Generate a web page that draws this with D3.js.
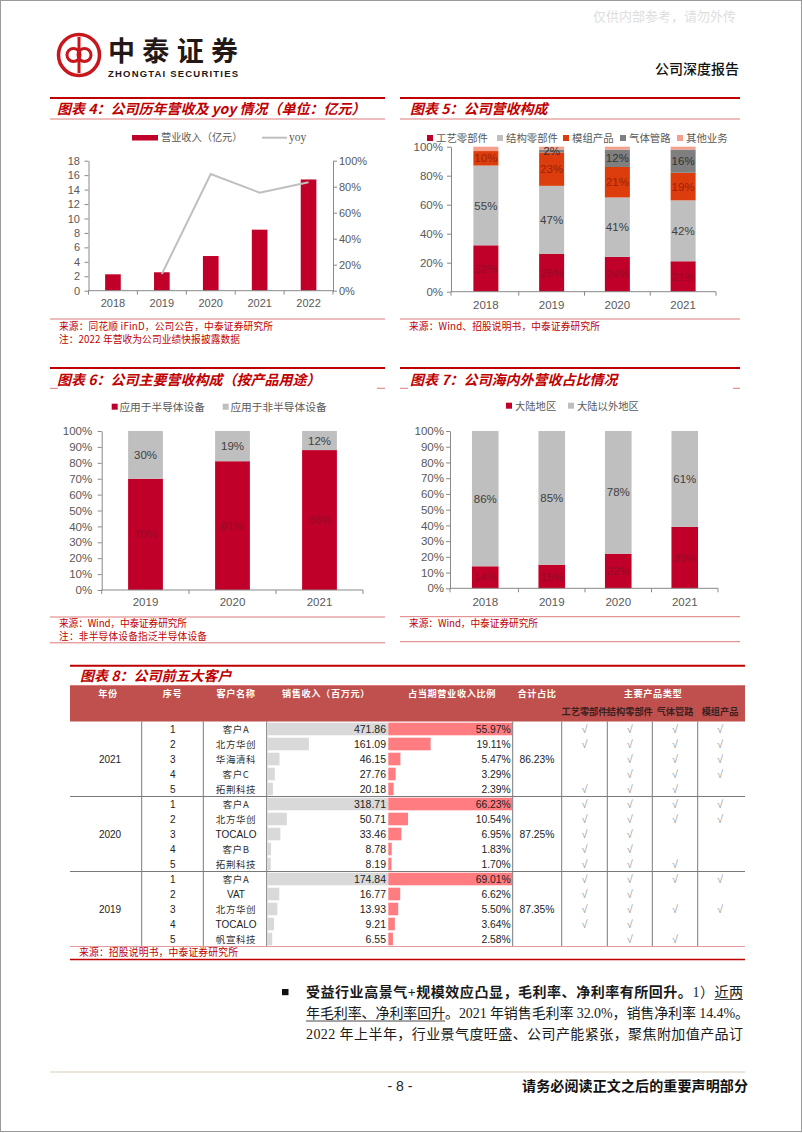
<!DOCTYPE html>
<html><head><meta charset="utf-8">
<script src="https://cdn.jsdelivr.net/npm/d3@7"></script>
<style>
body{margin:0;background:#fff;}
svg{display:block}
</style></head><body>
<div id="page" style="position:relative;width:802px;height:1133px;"></div>
<script>
// ---------------- DATA ----------------
// Chart 4
const years4 = ["2018","2019","2020","2021","2022"];
const revenue4 = [2.27, 2.55, 4.80, 8.45, 15.40];
const yoy4 = [null, 0.128, 0.897, 0.754, 0.834];
const yLeftTicks4 = [0,2,4,6,8,10,12,14,16,18];
const yRightTicks4 = [0,0.2,0.4,0.6,0.8,1.0];
// Chart 5
const years5 = ["2018","2019","2020","2021"];
const series5 = ["工艺零部件","结构零部件","模组产品","气体管路","其他业务"];
const craftParts5 = [0.32, 0.26, 0.24, 0.21];
const structParts5 = [0.55, 0.47, 0.41, 0.42];
const modules5 = [0.10, 0.23, 0.21, 0.19];
const gasLines5 = [0.00, 0.02, 0.12, 0.16];
const others5 = [0.03, 0.02, 0.02, 0.02];
// Chart 6
const years6 = ["2019","2020","2021"];
const series6 = ["应用于半导体设备","应用于非半导体设备"];
const semi6 = [0.70, 0.81, 0.88];
const nonSemi6 = [0.30, 0.19, 0.12];
// Chart 7
const years7 = ["2018","2019","2020","2021"];
const series7 = ["大陆地区","大陆以外地区"];
const mainland7 = [0.14, 0.15, 0.22, 0.39];
const overseas7 = [0.86, 0.85, 0.78, 0.61];
// Table 8
const tableYears = ["2021","2020","2019"];
const tableTotals = ["86.23%","87.25%","87.35%"];
const rankNo = ["1","2","3","4","5"];
const productTypes = ["工艺零部件","结构零部件","气体管路","模组产品"];
const customers2021 = ["客户A","北方华创","华海清科","客户C","拓荆科技"];
const sales2021 = [471.86,161.09,46.15,27.76,20.18];
const share2021 = [55.97,19.11,5.47,3.29,2.39];
const products2021 = [[1,1,1,1],[1,1,1,1],[0,1,1,1],[0,1,1,1],[1,1,1,0]];
const customers2020 = ["客户A","北方华创","TOCALO","客户B","拓荆科技"];
const sales2020 = [318.71,50.71,33.46,8.78,8.19];
const share2020 = [66.23,10.54,6.95,1.83,1.70];
const products2020 = [[1,1,1,1],[1,1,1,1],[1,1,0,0],[1,1,0,0],[1,1,1,0]];
const customers2019 = ["客户A","VAT","北方华创","TOCALO","帆宣科技"];
const sales2019 = [174.84,16.77,13.93,9.21,6.55];
const share2019 = [69.01,6.62,5.50,3.64,2.58];
const products2019 = [[1,1,1,1],[1,1,0,0],[1,1,1,1],[1,1,0,0],[0,1,1,0]];

// ---------------- SETUP ----------------
const W=802,H=1133;
const svg=d3.select("#page").append("svg").attr("width",W).attr("height",H);
const LAT='"Liberation Sans",Arial,"Noto Sans CJK SC",sans-serif';
const CJK='"Noto Sans CJK SC","Liberation Sans",sans-serif';
const SERIF='"Liberation Serif","Noto Sans CJK SC",serif';
const RED="#c00028", TRED="#c00000", LRED="#dc7a7a";
const GRAY="#bfbfbf", DGRAY="#7f7f7f", ORANGE="#dd3c0c", PINK="#f4a08c";
const AX="#898989", TX="#595959";

function hline(x1,x2,y,c,w){return svg.append("line").attr("x1",x1).attr("x2",x2).attr("y1",y).attr("y2",y).attr("stroke",c).attr("stroke-width",w);}
function vline(x,y1,y2,c,w){return svg.append("line").attr("x1",x).attr("x2",x).attr("y1",y1).attr("y2",y2).attr("stroke",c).attr("stroke-width",w);}
function txt(x,y,s,o={}){
  const t=svg.append("text").attr("x",x).attr("y",y).text(s)
    .attr("font-family",o.ff||CJK).attr("font-size",o.fs||10).attr("fill",o.fill||"#333");
  if(o.anchor)t.attr("text-anchor",o.anchor);
  if(o.fw)t.attr("font-weight",o.fw);
  if(o.italic)t.style("font-style","italic");
  if(o.len)t.attr("textLength",o.len).attr("lengthAdjust","spacing");
  if(o.ls)t.attr("letter-spacing",o.ls);
  return t;
}
function styleAxis(g,fs){
  g.attr("font-family",LAT).attr("font-size",fs);
  g.select(".domain").attr("stroke",AX);
  g.selectAll(".tick line").attr("stroke",AX);
  g.selectAll(".tick text").attr("fill",TX);
}
function title(x,y,s){return txt(x,y,s,{fs:14,fw:700,italic:true,fill:TRED});}

// page border
svg.append("rect").attr("x",0.5).attr("y",0.5).attr("width",801).attr("height",1131).attr("fill","none").attr("stroke","#9a9a9a");

// ---------------- HEADER ----------------
txt(593,21,"仅供内部参考，请勿外传",{fs:13,fill:"#dedede"});
svg.append("circle").attr("cx",79).attr("cy",55).attr("r",20.5).attr("fill","#fff").attr("stroke","#c8161d").attr("stroke-width",3.5);
svg.append("circle").attr("cx",73.5).attr("cy",55).attr("r",6.5).attr("fill","none").attr("stroke","#c8161d").attr("stroke-width",3);
svg.append("circle").attr("cx",84.5).attr("cy",55).attr("r",6.5).attr("fill","none").attr("stroke","#c8161d").attr("stroke-width",3);
vline(79,37,73,"#c8161d",3);
txt(108,60.5,"中泰证券",{fs:27,fw:700,fill:"#231815",len:130});
txt(108,77,"ZHONGTAI SECURITIES",{fs:9.5,fw:700,ff:LAT,fill:"#231815",len:130});
txt(655,74,"公司深度报告",{fs:14,fw:500,fill:"#111"});

// ---------------- CHART 4 ----------------
hline(50,385,98,TRED,2);
title(57,114,"图表 4：公司历年营收及 yoy 情况（单位：亿元）");
hline(50,385,119,LRED,1);
svg.append("rect").attr("x",132).attr("y",135).attr("width",26).attr("height",5.5).attr("fill",RED);
txt(161,141.2,"营业收入（亿元）",{fs:10.2,fill:TX});
hline(262,287,137.7,GRAY,2);
txt(289,141.2,"yoy",{fs:11.5,ff:SERIF,fill:TX});
{
  const x=d3.scaleBand().domain(years4).range([88.5,333]).paddingInner(0.68).paddingOuter(0.34);
  const yL=d3.scaleLinear().domain([0,18]).range([290.7,160.7]);
  const yR=d3.scaleLinear().domain([0,1]).range([290.7,160.7]);
  svg.append("g").selectAll("rect").data(revenue4).join("rect")
    .attr("x",(d,i)=>x(years4[i])).attr("y",d=>yL(d)).attr("width",x.bandwidth())
    .attr("height",d=>yL(0)-yL(d)).attr("fill",RED);
  const line=d3.line().defined(d=>d[1]!=null).x(d=>x(d[0])+x.bandwidth()/2).y(d=>yR(d[1]));
  svg.append("path").datum(years4.map((c,i)=>[c,yoy4[i]])).attr("d",line)
    .attr("fill","none").attr("stroke",GRAY).attr("stroke-width",2);
  const gl=svg.append("g").attr("transform","translate(88.5,0)")
    .call(d3.axisLeft(yL).tickValues(yLeftTicks4).tickSize(4).tickSizeOuter(0).tickPadding(4.5));
  styleAxis(gl,11);
  const gr=svg.append("g").attr("transform","translate(333,0)")
    .call(d3.axisRight(yR).tickValues(yRightTicks4).tickFormat(d3.format(".0%")).tickSize(4).tickSizeOuter(0).tickPadding(2));
  styleAxis(gr,11);
  hline(88.5,333,290.7,AX,1);
  const step=x.step();
  for(let k=0;k<=years4.length;k++) vline(88.5+k*step,290.7,294.7,AX,1);
  years4.forEach(c=>txt(x(c)+x.bandwidth()/2,307.2,c,{fs:11,ff:LAT,fill:TX,anchor:"middle"}));
}
hline(50,385,319,LRED,1);
txt(59,329.5,"来源：同花顺 iFinD，公司公告，中泰证券研究所",{fs:9.7,fill:TRED,len:214});
txt(59,342.5,"注：2022 年营收为公司业绩快报披露数据",{fs:9.7,fill:TRED,len:181});

// ---------------- generic 100% stacked ----------------
function stacked100(o){
  const x=d3.scaleBand().domain(o.cats).range(o.xr).paddingInner(o.pi).paddingOuter(o.pi/2);
  const y=d3.scaleLinear().domain([0,1]).range(o.yr);
  const rows=o.cats.map((c,i)=>{const r={cat:c};o.keys.forEach((k,j)=>r[k]=o.vals[j][i]);return r;});
  const st=d3.stack().keys(o.keys)(rows);
  const g=svg.append("g");
  st.forEach((s,j)=>{
    g.append("g").selectAll("rect").data(s).join("rect")
      .attr("x",d=>x(d.data.cat)).attr("y",d=>y(d[1])).attr("width",x.bandwidth())
      .attr("height",d=>Math.max(0,y(d[0])-y(d[1]))).attr("fill",o.colors[j]);
  });
  st.forEach((s,j)=>{
    if(!o.labelColors[j])return;
    g.append("g").selectAll("text").data(s.filter(d=>d[1]-d[0]>0.005)).join("text")
      .attr("x",d=>x(d.data.cat)+x.bandwidth()/2).attr("y",d=>y((d[0]+d[1])/2)).attr("dy","0.36em")
      .attr("text-anchor","middle").attr("font-family",LAT).attr("font-size",11.5)
      .attr("fill",o.labelColors[j]).text(d=>Math.round((d[1]-d[0])*100)+"%");
  });
  const ya=svg.append("g").attr("transform",`translate(${o.axisX},0)`)
    .call(d3.axisLeft(y).tickValues(o.yTicks).tickFormat(d3.format(".0%")).tickSize(4).tickSizeOuter(0).tickPadding(o.tp));
  styleAxis(ya,11.5);
  const y0=o.yr[0];
  hline(o.axisX,o.xr[1],y0,AX,1);
  const step=x.step();
  for(let k=0;k<=o.cats.length;k++) vline(k===0?o.axisX:o.xr[0]+k*step,y0,y0+4,AX,1);
  o.cats.forEach(c=>txt(x(c)+x.bandwidth()/2,o.xLabelY,c,{fs:11.5,ff:LAT,fill:TX,anchor:"middle"}));
}

// ---------------- CHART 5 ----------------
hline(400,740,98,TRED,2);
title(410,114,"图表 5：公司营收构成");
hline(400,740,119,LRED,1);
{
  const cols=[RED,GRAY,ORANGE,DGRAY,PINK];
  const lx=[427,497,563,620,677];
  series5.forEach((s,i)=>{
    svg.append("rect").attr("x",lx[i]).attr("y",135).attr("width",6).attr("height",6).attr("fill",cols[i]);
    txt(lx[i]+9,141.6,s,{fs:10.4,fill:TX});
  });
  stacked100({cats:years5,keys:series5,vals:[craftParts5,structParts5,modules5,gasLines5,others5],
    colors:cols,labelColors:["#930d27","#404040","#9a2208","#333333",null],
    xr:[453,716],pi:0.62,yr:[291.7,146.7],axisX:451,yTicks:[0,0.2,0.4,0.6,0.8,1],tp:4,xLabelY:308.5});
}
hline(400,740,319,LRED,1);
txt(409,329.5,"来源：Wind、招股说明书，中泰证券研究所",{fs:9.7,fill:TRED,len:191});

// ---------------- CHART 6 ----------------
hline(50,385,368,TRED,2);
title(57,385,"图表 6：公司主要营收构成（按产品用途）");
hline(50,58,388.3,LRED,1); hline(377,385,388.3,LRED,1);
{
  const cols=[RED,GRAY];
  const lx=[111.7,222.7];
  series6.forEach((s,i)=>{
    svg.append("rect").attr("x",lx[i]).attr("y",403.7).attr("width",6).attr("height",6).attr("fill",cols[i]);
    txt(lx[i]+7.7,410.5,s,{fs:10.7,fill:TX});
  });
  stacked100({cats:years6,keys:series6,vals:[semi6,nonSemi6],colors:cols,labelColors:["#930d27","#404040"],
    xr:[102,363],pi:0.6,yr:[590,431],axisX:101.7,yTicks:d3.range(11).map(i=>i/10),tp:5.5,xLabelY:606.2});
}
hline(50,385,617,LRED,1);
txt(59,627,"来源：Wind，中泰证券研究所",{fs:9.7,fill:TRED,len:128});
txt(59,640.3,"注：非半导体设备指泛半导体设备",{fs:9.7,fill:TRED,len:148});
hline(50,385,642.8,LRED,1);

// ---------------- CHART 7 ----------------
hline(400,740,368,TRED,2);
title(410,385,"图表 7：公司海内外营收占比情况");
hline(400,408,388.3,LRED,1); hline(733,740,388.3,LRED,1);
{
  const cols=[RED,GRAY];
  const lx=[506,568];
  series7.forEach((s,i)=>{
    svg.append("rect").attr("x",lx[i]).attr("y",402.7).attr("width",6).attr("height",6).attr("fill",cols[i]);
    txt(lx[i]+9,409.5,s,{fs:10.3,fill:TX});
  });
  stacked100({cats:years7,keys:series7,vals:[mainland7,overseas7],colors:cols,labelColors:["#930d27","#404040"],
    xr:[452,718],pi:0.6,yr:[588.3,431],axisX:450,yTicks:d3.range(11).map(i=>i/10),tp:2,xLabelY:605.6});
}
hline(400,740,616.7,LRED,1);
txt(409,627,"来源：Wind，中泰证券研究所",{fs:9.7,fill:TRED,len:129});
hline(400,740,641.7,LRED,1);

// ---------------- TABLE 8 ----------------
hline(70,745,665.7,TRED,2);
title(80,681,"图表 8：公司前五大客户");
hline(70,745,685.5,LRED,1);
svg.append("rect").attr("x",70).attr("y",686).attr("width",675).attr("height",35.5).attr("fill","#c0504d");
{
  const hs={fs:9.2,fw:700,fill:"#fff",anchor:"middle",ls:0.6};
  txt(108,696.5,"年份",hs);
  txt(172.5,696.5,"序号",hs);
  txt(236,696.5,"客户名称",hs);
  txt(326,696.5,"销售收入（百万元）",hs);
  txt(452,696.5,"占当期营业收入比例",hs);
  txt(537,696.5,"合计占比",hs);
  txt(653,696.5,"主要产品类型",hs);
  const pc=[584.5,629.8,675,720];
  productTypes.forEach((p,i)=>txt(pc[i],714.8,p,{fs:9.2,fw:700,fill:"#3a2020",anchor:"middle"}));

  const rowTop=721.5,rowH=15;
  const groups=[
    {names:customers2021,sales:sales2021,share:share2021,prod:products2021},
    {names:customers2020,sales:sales2020,share:share2020,prod:products2020},
    {names:customers2019,sales:sales2019,share:share2019,prod:products2019}
  ];
  groups.forEach((g,gi)=>{
    const sx=d3.scaleLinear().domain([0,d3.max(g.sales)]).range([0,120.6]);
    const px=d3.scaleLinear().domain([0,d3.max(g.share)]).range([0,124]);
    const gg=svg.append("g");
    gg.selectAll("rect.s").data(g.sales).join("rect").attr("class","s")
      .attr("x",267.7).attr("y",(d,i)=>rowTop+(gi*5+i)*rowH+1.2).attr("width",d=>sx(d)).attr("height",12.6).attr("fill","#d9d9d9");
    gg.selectAll("rect.p").data(g.share).join("rect").attr("class","p")
      .attr("x",388.3).attr("y",(d,i)=>rowTop+(gi*5+i)*rowH+1.2).attr("width",d=>px(d)).attr("height",12.6).attr("fill","#ff7c80");
    g.names.forEach((n,i)=>{
      const cy=rowTop+(gi*5+i)*rowH+rowH/2;
      txt(172.7,cy+3.7,rankNo[i],{fs:10,ff:LAT,fill:"#222",anchor:"middle"});
      const latin=/^[A-Z]+$/.test(n);
      txt(236,cy+3.6,n,latin?{fs:10,ff:LAT,fill:"#222",anchor:"middle"}:{fs:9.5,fill:"#333",anchor:"middle",ls:0.6});
      txt(386,cy+3.8,d3.format(".2f")(g.sales[i]),{fs:10.5,ff:LAT,fill:"#222",anchor:"end"});
      txt(510.7,cy+3.8,d3.format(".2f")(g.share[i])+"%",{fs:10.3,ff:LAT,fill:"#222",anchor:"end"});
      g.prod[i].forEach((v,k)=>{ if(v) txt(pc[k],cy+4,"√",{fs:11,ff:LAT,fill:"#9a9a9a",anchor:"middle"}); });
    });
    const gcy=rowTop+(gi*5+2)*rowH+rowH/2;
    txt(110,gcy+3.7,tableYears[gi],{fs:10,ff:LAT,fill:"#222",anchor:"middle"});
    txt(537,gcy+3.8,tableTotals[gi],{fs:10.3,ff:LAT,fill:"#222",anchor:"middle"});
  });
  [141.7,203.3,266.7,512.7,561.7,607.3,652.3,697.7].forEach(x=>vline(x,721.5,946.5,"#7a7a7a",1));
  hline(70,745,796.5,"#7a7a7a",1);
  hline(70,745,871.5,"#7a7a7a",1);
  hline(70,745,946.5,"#e29a9a",1);
}
txt(79,955.8,"来源：招股说明书，中泰证券研究所",{fs:9.8,fill:TRED,len:159});
hline(70,745,959.5,TRED,1.5);

// ---------------- BODY TEXT ----------------
svg.append("rect").attr("x",282).attr("y",989).attr("width",6.5).attr("height",6.2).attr("fill","#111");
{
  const l1=svg.append("text").attr("x",306).attr("y",996.7).attr("font-family",SERIF).attr("font-size",14).attr("fill","#1a1a1a")
    .attr("textLength",437).attr("lengthAdjust","spacing");
  l1.append("tspan").attr("font-weight",700).text("受益行业高景气+规模效应凸显，毛利率、净利率有所回升。");
  l1.append("tspan").text("1）近两");
  const l2=svg.append("text").attr("x",306).attr("y",1018.3).attr("font-family",SERIF).attr("font-size",14).attr("fill","#1a1a1a")
    .attr("textLength",443).attr("lengthAdjust","spacing")
    .text("年毛利率、净利率回升。2021 年销售毛利率 32.0%，销售净利率 14.4%。");
  const l3=svg.append("text").attr("x",306).attr("y",1039).attr("font-family",SERIF).attr("font-size",14).attr("fill","#1a1a1a")
    .attr("textLength",437).attr("lengthAdjust","spacing")
    .text("2022 年上半年，行业景气度旺盛、公司产能紧张，聚焦附加值产品订");
  function underline(el,i0,i1,y){
    const n=el.node();
    try{
      const a=n.getStartPositionOfChar(i0).x, b=n.getEndPositionOfChar(i1).x;
      hline(a,b,y,"#1a1a1a",0.8);
    }catch(e){}
  }
  const s1=l1.node().textContent; 
  underline(l1,s1.length-2,s1.length-1,999.5);
  underline(l2,0,9,1021);
}

// ---------------- FOOTER ----------------
hline(50,745,1072,"#d8ccbd",1.2);
txt(400,1091,"- 8 -",{fs:14,ff:LAT,fill:"#222",anchor:"middle"});
txt(522,1091,"请务必阅读正文之后的重要声明部分",{fs:14,fw:700,fill:"#111",len:226});
</script>
</body></html>
